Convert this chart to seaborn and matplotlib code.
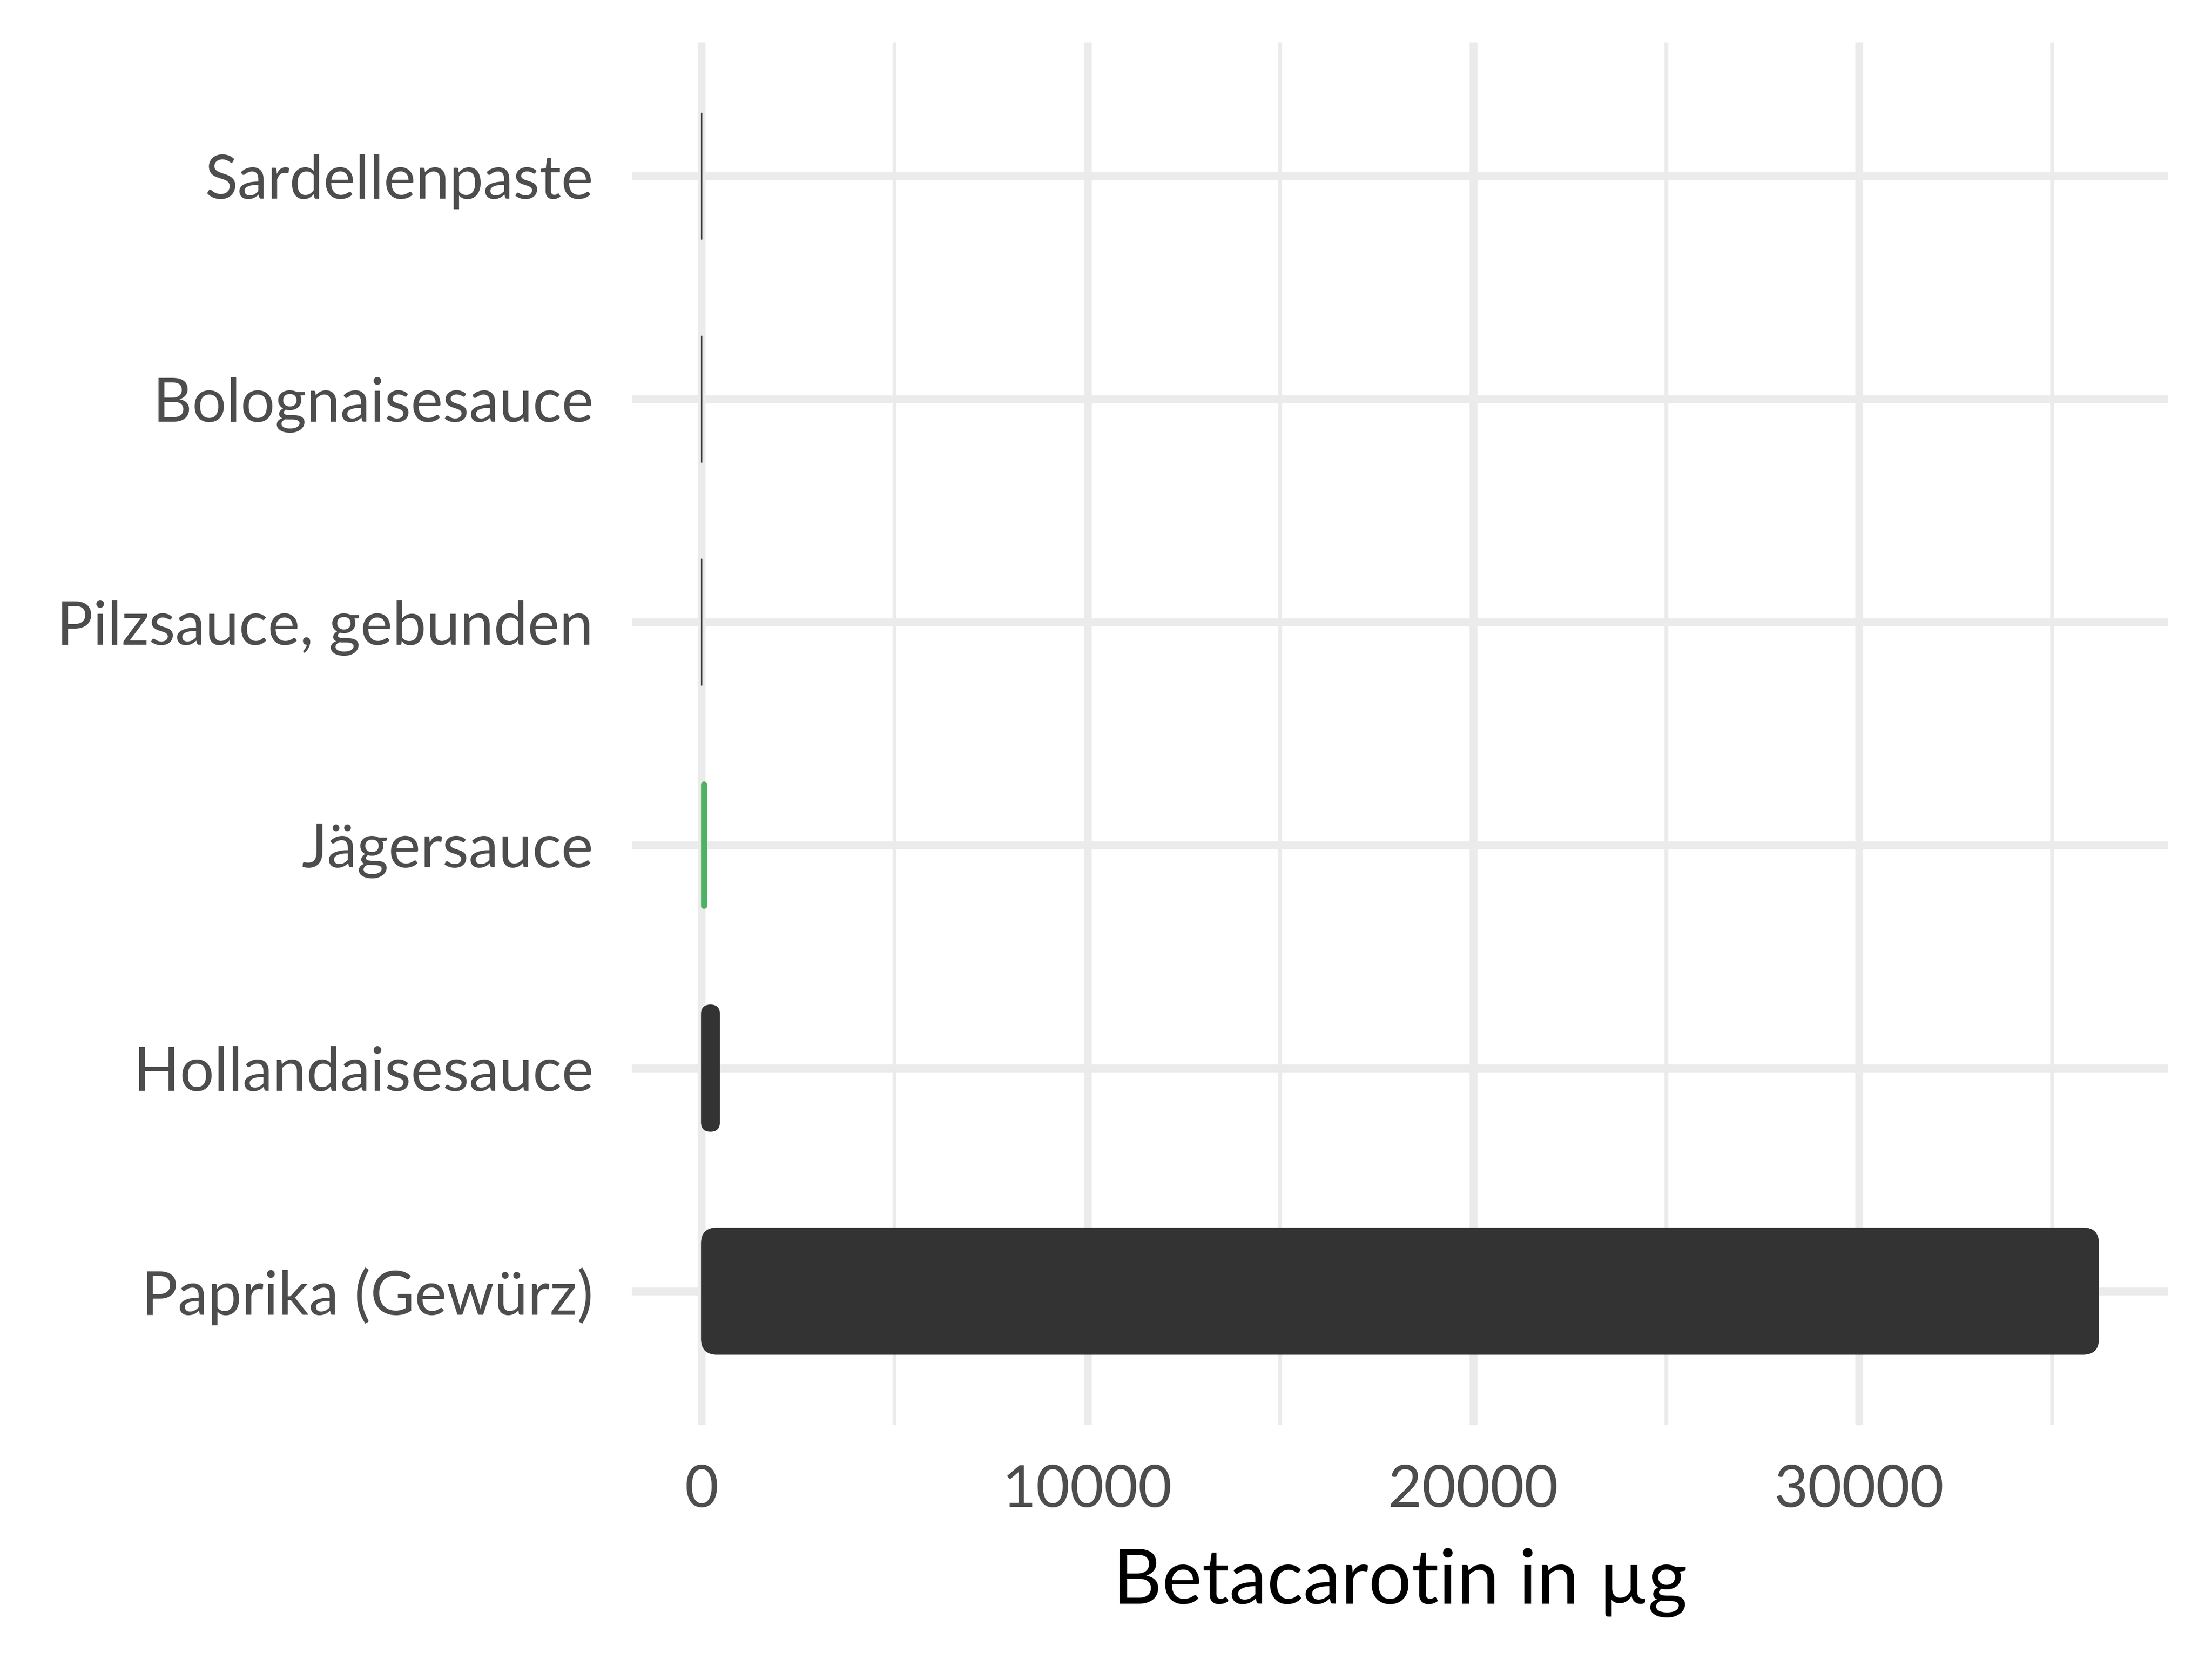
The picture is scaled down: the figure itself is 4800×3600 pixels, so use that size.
import matplotlib
matplotlib.use("Agg")
import matplotlib.pyplot as plt
from matplotlib.patches import FancyBboxPatch
from matplotlib.ticker import MultipleLocator
import seaborn as sns
import pandas as pd

categories = ["Sardellenpaste", "Bolognaisesauce", "Pilzsauce, gebunden",
              "Jägersauce", "Hollandaisesauce", "Paprika (Gewürz)"]
values = [2, 2, 2, 130, 460, 36200]
bar_colors = ["#333333", "#333333", "#333333", "#3DC35A", "#333333", "#333333"]
x_ticks = [0, 10000, 20000, 30000]
x_label = "Betacarotin in µg"

sns.set_theme(style="white")
plt.rcParams["font.family"] = ["Lato", "DejaVu Sans"]

df = pd.DataFrame({"cat": categories, "val": values})

fig = plt.figure(figsize=(16, 12), dpi=300)
ax = fig.add_axes([0.2856, 0.1411, 0.9802 - 0.2856, 0.9744 - 0.1411])

sns.barplot(data=df, x="val", y="cat", hue="cat", palette=bar_colors,
            order=categories, width=0.565, legend=False, ax=ax,
            edgecolor="none", linewidth=0)

xmin, xmax = -1810, 38010
ax.set_xlim(xmin, xmax)
ax.set_ylim(len(categories) - 0.4, -0.6)

# rounded corners: replace rectangles with rounded boxes
px_per_x = (0.9802 - 0.2856) * 4800 / (xmax - xmin)
px_per_y = (0.9744 - 0.1411) * 3600 / (len(categories) + 0.2)
r_px = 33
for p in list(ax.patches):
    x0, y0 = p.get_x(), p.get_y()
    w, h = p.get_width(), p.get_height()
    fc = p.get_facecolor()
    r = min(r_px / px_per_x, w / 2)
    aspect = (r_px / px_per_y) / (r_px / px_per_x)
    fb = FancyBboxPatch((x0, y0), w, h,
                        boxstyle=f"round,pad=0,rounding_size={r}",
                        mutation_aspect=aspect, facecolor=fc,
                        edgecolor=fc, linewidth=0.6, zorder=3)
    p.remove()
    ax.add_patch(fb)

ax.xaxis.set_major_locator(MultipleLocator(10000))
ax.xaxis.set_minor_locator(MultipleLocator(5000))
ax.set_xticks(x_ticks)
ax.set_xticklabels([str(t) for t in x_ticks])
ax.grid(True, which="major", axis="both", color="#EBEBEB", linewidth=4.1, zorder=0)
ax.grid(True, which="minor", axis="x", color="#EBEBEB", linewidth=2.0, zorder=0)
ax.set_axisbelow(True)
for s in ax.spines.values():
    s.set_visible(False)

ax.tick_params(axis="both", which="both", length=0)
ax.tick_params(axis="y", pad=20, labelsize=31.5, labelcolor="#4D4D4D")
ax.tick_params(axis="x", pad=20.5, labelsize=30.5, labelcolor="#4D4D4D")
ax.set_ylabel("")
ax.set_xlabel(x_label, fontsize=39.5, color="black", labelpad=16)

fig.savefig("out.png", dpi=300, facecolor="white")
